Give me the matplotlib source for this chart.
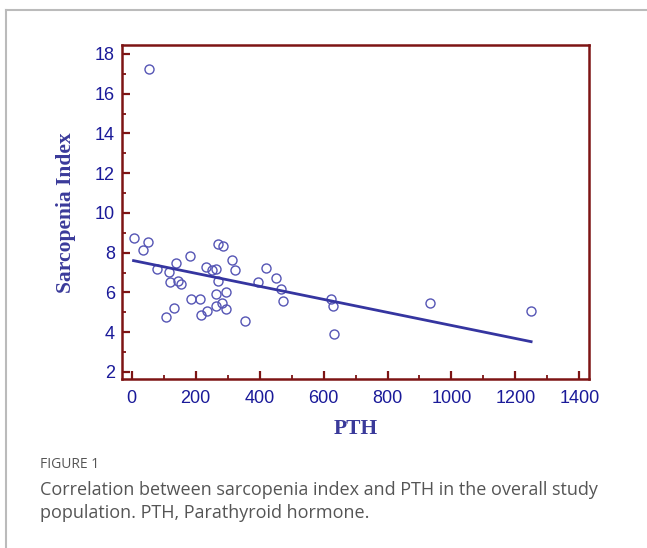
import matplotlib.pyplot as plt
from matplotlib.lines import Line2D
from matplotlib.ticker import MultipleLocator
import numpy as np

# PTH vs indice de sarcopenia
pth = [6, 37, 52, 55, 80, 107, 118, 120, 131, 138, 146, 154, 184, 186,
       215, 217, 232, 237, 251, 265, 263, 265, 270, 286, 270, 284, 296,
       295, 315, 323, 353, 395, 421, 452, 468, 472, 623, 629, 632, 932, 1249]
sarc = [8.73, 8.16, 8.52, 17.25, 7.18, 4.78, 7.04, 6.51, 5.23, 7.46, 6.56,
        6.44, 7.85, 5.65, 5.65, 4.88, 7.29, 5.05, 7.14, 7.19, 5.94, 5.33,
        8.45, 8.35, 6.56, 5.45, 5.17, 6.00, 7.63, 7.13, 4.56, 6.52, 7.24,
        6.74, 6.17, 5.55, 5.65, 5.33, 3.93, 5.45, 5.05]

# recta de regresion
intercepto = 7.62
pendiente = -0.00328

x_ticks = [0, 200, 400, 600, 800, 1000, 1200, 1400]
y_ticks = [2, 4, 6, 8, 10, 12, 14, 16, 18]

rojo = '#7d1414'
azul_txt = '#1a1a99'

fig = plt.figure(figsize=(6.47, 5.48), dpi=100)
ax = fig.add_axes([0.1886, 0.3075, 0.7218, 0.6104])

ax.plot(pth, sarc, linestyle='none', marker='o', markersize=6.5,
        markerfacecolor='none', markeredgecolor='#5555b5', markeredgewidth=1.0)

xr = np.array([min(pth), max(pth)])
ax.plot(xr, intercepto + pendiente * xr, color='#3535a0', linewidth=2)

ax.set_xlim(-30, 1430)
ax.set_ylim(1.62, 18.45)
ax.set_xticks(x_ticks)
ax.set_yticks(y_ticks)
ax.xaxis.set_minor_locator(MultipleLocator(100))
ax.yaxis.set_minor_locator(MultipleLocator(1))

for s in ax.spines.values():
    s.set_color(rojo)
    s.set_linewidth(1.8)
ax.tick_params(which='major', direction='in', length=6, width=1.6, color=rojo,
               labelsize=13, labelcolor=azul_txt)
ax.tick_params(axis='x', which='major', pad=7.5)
ax.tick_params(axis='y', which='major', pad=5)
ax.tick_params(which='minor', direction='in', length=3, width=1.3, color=rojo)
for lab in ax.get_xticklabels() + ax.get_yticklabels():
    lab.set_family('Liberation Sans')

ax.set_xlabel('PTH', family='Liberation Serif', fontweight='bold',
              fontsize=15.5, color='#3a3a9a', labelpad=9)
ax.set_ylabel('Sarcopenia Index', family='Liberation Serif', fontweight='bold',
              fontsize=15.5, color='#3a3a9a', labelpad=14)

# marco gris de la figura
fig.add_artist(Line2D([6 / 647, 1], [1 - 10 / 548, 1 - 10 / 548],
                      color='#bbbbbb', linewidth=1.5, transform=fig.transFigure))
fig.add_artist(Line2D([6 / 647, 6 / 647], [0, 1 - 10 / 548],
                      color='#bbbbbb', linewidth=1.5, transform=fig.transFigure))

fig.text(40 / 647, 1 - 465 / 548, 'FIGURE 1', family='Open Sans',
         fontsize=10, color='#555555', va='center')
fig.text(40 / 647, 1 - 490 / 548,
         'Correlation between sarcopenia index and PTH in the overall study',
         family='Open Sans', fontsize=13, color='#555555', va='center')
fig.text(40 / 647, 1 - 513 / 548, 'population. PTH, Parathyroid hormone.',
         family='Open Sans', fontsize=13, color='#555555', va='center')

fig.savefig('out.png', dpi=100)
